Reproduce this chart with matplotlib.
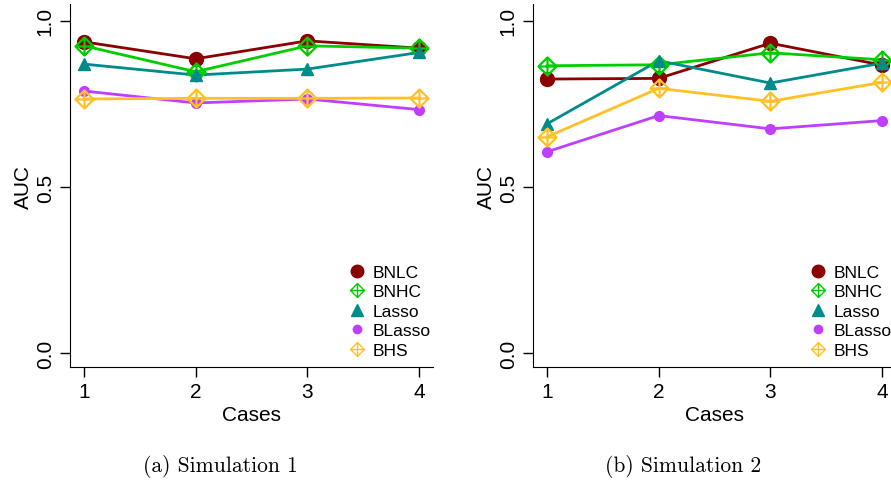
import numpy as np
import matplotlib
matplotlib.use("Agg")
from matplotlib import pyplot as plt
from matplotlib.path import Path

cases = [1, 2, 3, 4]
methods = ["BNLC", "BNHC", "Lasso", "BLasso", "BHS"]

# AUC values
sim1_bnlc = [0.937, 0.886, 0.940, 0.918]
sim1_bnhc = [0.925, 0.847, 0.925, 0.918]
sim1_lasso = [0.870, 0.837, 0.855, 0.905]
sim1_blasso = [0.789, 0.753, 0.765, 0.733]
sim1_bhs = [0.765, 0.767, 0.767, 0.768]

sim2_bnlc = [0.825, 0.827, 0.933, 0.867]
sim2_bnhc = [0.865, 0.868, 0.904, 0.883]
sim2_lasso = [0.690, 0.880, 0.813, 0.873]
sim2_blasso = [0.606, 0.715, 0.675, 0.700]
sim2_bhs = [0.651, 0.797, 0.758, 0.815]

captions = ["(a) Simulation 1", "(b) Simulation 2"]

# diamond with a plus inside (like R pch=9)
diamond_plus = Path(
    [(0, -1), (1, 0), (0, 1), (-1, 0), (0, -1), (0, -1), (0, 1), (-1, 0), (1, 0)],
    [Path.MOVETO, Path.LINETO, Path.LINETO, Path.LINETO, Path.CLOSEPOLY,
     Path.MOVETO, Path.LINETO, Path.MOVETO, Path.LINETO],
)

styles = {
    "BNLC": dict(color="#8B0000", marker="o", ms=10, mfc="#8B0000", lms=9),
    "BNHC": dict(color="#00CD00", marker=diamond_plus, ms=13, mfc="none", mew=1.6, lms=10),
    "Lasso": dict(color="#008B8B", marker="^", ms=8, mfc="#008B8B", lms=8),
    "BLasso": dict(color="#BF3EFF", marker="o", ms=7, mfc="#BF3EFF", lms=6),
    "BHS": dict(color="#FFC125", marker=diamond_plus, ms=13, mfc="none", mew=1.6, lms=10),
}

plt.rcParams["font.family"] = ["Liberation Sans", "DejaVu Sans"]

fig = plt.figure(figsize=(8.91, 4.89), dpi=100)
ax1 = fig.add_axes([0.0786, 0.2474, 0.4074, 0.7424])
ax2 = fig.add_axes([0.5982, 0.2474, 0.4074, 0.7424])

data = [
    [sim1_bnlc, sim1_bnhc, sim1_lasso, sim1_blasso, sim1_bhs],
    [sim2_bnlc, sim2_bnhc, sim2_lasso, sim2_blasso, sim2_bhs],
]
legend_x = [0.766, 0.760]

for ax, series, cap, lx in zip([ax1, ax2], data, captions, legend_x):
    handles = []
    for name, vals in zip(methods, series):
        st = styles[name]
        ax.plot(cases, vals, color=st["color"], lw=2, zorder=2)
        ax.plot(cases, vals, ls="none", marker=st["marker"], ms=st["ms"],
                mfc=st["mfc"], mec=st["color"], mew=st.get("mew", 1), zorder=3)
        h, = ax.plot([], [], ls="none", marker=st["marker"], ms=st["lms"],
                     mfc=st["mfc"], mec=st["color"], mew=1.0)
        handles.append(h)
    ax.set_xlim(0.875, 4.125)
    ax.set_ylim(-0.042, 1.051)
    ax.set_xticks(cases)
    ax.set_yticks([0.0, 0.5, 1.0])
    ax.set_yticklabels(["0.0", "0.5", "1.0"], rotation=90, va="center")
    ax.tick_params(labelsize=15, length=7, width=1, direction="out", pad=4)
    ax.spines["top"].set_visible(False)
    ax.spines["right"].set_visible(False)
    ax.set_xlabel("Cases", fontsize=15, labelpad=3)
    ax.set_ylabel("AUC", fontsize=15, labelpad=2)
    ax.legend(handles, methods, loc="lower left", frameon=False, fontsize=12.5,
              handlelength=1.0, handletextpad=0.4, labelspacing=0.25,
              borderpad=0, borderaxespad=0, bbox_to_anchor=(lx, 0.026))

    # caption below each panel
    pos = ax.get_position()
    fig.text(pos.x0 + 150 / 891, 0.045, cap, ha="center", va="center",
             fontsize=15.5, family="cmr10")

fig.savefig("out.png", dpi=100)
